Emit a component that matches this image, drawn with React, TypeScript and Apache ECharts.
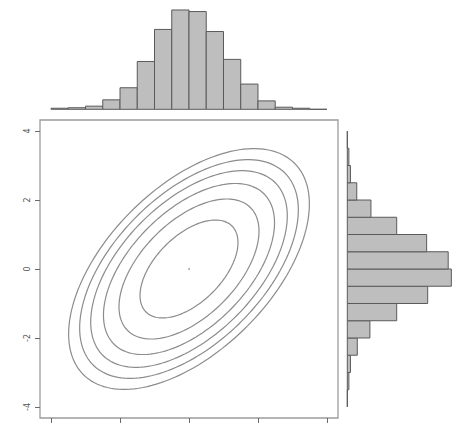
import React, { useEffect, useRef } from "react";
import * as echarts from "echarts";

// Bin edges shared by both marginal histograms (width 0.5)
const binStarts = [-4, -3.5, -3, -2.5, -2, -1.5, -1, -0.5, 0, 0.5, 1, 1.5, 2, 2.5, 3, 3.5];
const binWidth = 0.5;
// Top histogram (x marginal) counts
const xCounts = [2, 3, 6, 18, 41, 91, 152, 189, 186, 148, 95, 48, 16, 4, 2, 0];
// Right histogram (y marginal) counts, bins from -4 upward
const yCounts = [0, 3, 6, 19, 43, 94, 153, 198, 192, 151, 94, 45, 18, 6, 3, 0];
// Contour levels (Mahalanobis radii) of the bivariate normal density
const contourRadii = [1.42, 2.03, 2.48, 2.85, 3.17, 3.49];
const correlation = 0.54;
const center = [0, 0];
// Axis ticks
const tickValues = [-4, -2, 0, 2, 4];

const AX = 4.32;
const HIST_MAX = 200;

export default function App() {
  const ref = useRef<HTMLDivElement>(null);
  useEffect(() => {
    if (!ref.current) return;
    const chart = echarts.init(ref.current, null, { renderer: "svg" });
    const barFill = "#bebebe";
    const barStroke = "#5a5a5a";
    const lineGray = "#8c8c8c";

    const xHist = binStarts.map((s, i) => [s, s + binWidth, xCounts[i]]);
    const yHist = binStarts.map((s, i) => [s, s + binWidth, yCounts[i]]);

    const option: any = {
      animation: false,
      backgroundColor: "#ffffff",
      grid: [
        {
          left: 40,
          right: 123,
          top: 120,
          bottom: 6,
          show: true,
          borderColor: "#9c9c9c",
          borderWidth: 1.3,
          backgroundColor: "transparent",
        },
        { left: 40, right: 123, top: 4.2, bottom: 314.7 },
        { left: 347.3, right: 8.6, top: 120, bottom: 6 },
      ],
      xAxis: [
        {
          gridIndex: 0,
          type: "value",
          min: -AX,
          max: AX,
          axisLine: { show: false, onZero: false },
          splitLine: { show: false },
          axisTick: {
            show: true,
            customValues: tickValues,
            length: 5,
            lineStyle: { color: "#6a6a6a", width: 1 },
          },
          axisLabel: { show: false },
        },
        { gridIndex: 1, type: "value", min: -AX, max: AX, show: false },
        { gridIndex: 2, type: "value", min: 0, max: HIST_MAX, show: false },
      ],
      yAxis: [
        {
          gridIndex: 0,
          type: "value",
          min: -AX,
          max: AX,
          axisLine: { show: false, onZero: false },
          splitLine: { show: false },
          axisTick: {
            show: true,
            customValues: tickValues,
            length: 5,
            lineStyle: { color: "#6a6a6a", width: 1 },
          },
          axisLabel: {
            show: true,
            customValues: tickValues,
            rotate: 90,
            margin: 9,
            fontSize: 8,
            fontFamily: "DejaVu Sans",
            color: "#555",
            formatter: (v: number) => String(v),
          },
        },
        { gridIndex: 1, type: "value", min: 0, max: HIST_MAX, show: false },
        { gridIndex: 2, type: "value", min: -AX, max: AX, show: false },
      ],
      series: [
        {
          type: "custom",
          xAxisIndex: 0,
          yAxisIndex: 0,
          data: contourRadii.map((c) => [c]),
          renderItem: (params: any, api: any) => {
            const c = api.value(0);
            const s = Math.sqrt(1 - correlation * correlation);
            const pts: number[][] = [];
            const n = 160;
            for (let k = 0; k <= n; k++) {
              const t = (k / n) * Math.PI * 2;
              const x = center[0] + c * Math.cos(t);
              const y = center[1] + c * (correlation * Math.cos(t) + s * Math.sin(t));
              pts.push(api.coord([x, y]));
            }
            return {
              type: "polyline",
              shape: { points: pts },
              style: { stroke: lineGray, fill: "none", lineWidth: 1.2 },
              silent: true,
            };
          },
        },
        {
          type: "scatter",
          xAxisIndex: 0,
          yAxisIndex: 0,
          data: [center],
          symbolSize: 2,
          itemStyle: { color: "#999" },
        },
        {
          type: "custom",
          xAxisIndex: 1,
          yAxisIndex: 1,
          data: xHist,
          encode: { x: [0, 1], y: 2 },
          renderItem: (params: any, api: any) => {
            const p0 = api.coord([api.value(0), api.value(2)]);
            const p1 = api.coord([api.value(1), 0]);
            return {
              type: "rect",
              shape: { x: p0[0], y: p0[1], width: p1[0] - p0[0], height: p1[1] - p0[1] },
              style: { fill: barFill, stroke: barStroke, lineWidth: 1 },
            };
          },
        },
        {
          type: "custom",
          xAxisIndex: 2,
          yAxisIndex: 2,
          data: yHist,
          encode: { y: [0, 1], x: 2 },
          renderItem: (params: any, api: any) => {
            const p0 = api.coord([0, api.value(1)]);
            const p1 = api.coord([api.value(2), api.value(0)]);
            return {
              type: "rect",
              shape: { x: p0[0], y: p0[1], width: p1[0] - p0[0], height: p1[1] - p0[1] },
              style: { fill: barFill, stroke: barStroke, lineWidth: 1 },
            };
          },
        },
      ],
    };
    chart.setOption(option);
    return () => chart.dispose();
  }, []);
  return <div ref={ref} style={{ width: 461, height: 424, position: "absolute", left: 0, top: 0 }} />;
}
